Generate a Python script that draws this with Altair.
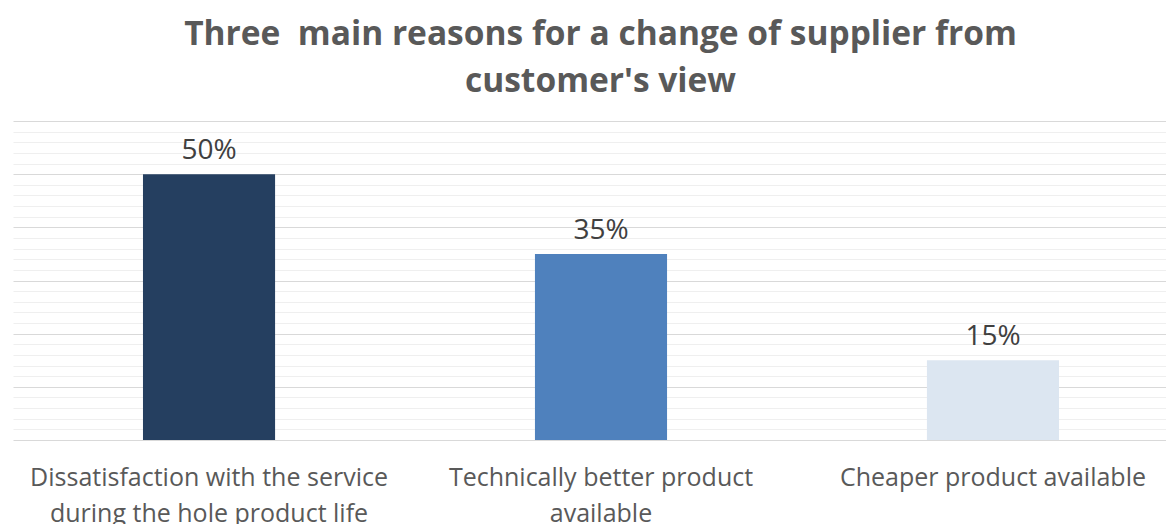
import altair as alt
import pandas as pd

categories = [
    "Dissatisfaction with the service\nduring the hole product life",
    "Technically better product\navailable",
    "Cheaper product available",
]
values = [0.50, 0.35, 0.15]
colors = ["#253F60", "#4F81BD", "#DCE6F1"]
labels = ["50%", "35%", "15%"]
title_lines = ["Three \u00a0main reasons for a change of supplier from", "customer's view"]

df = pd.DataFrame({"cat": categories, "value": values, "color": colors, "label": labels})

grid_values = [round(i * 0.02, 2) for i in range(31)]

x = alt.X(
    "cat:N",
    sort=categories,
    title=None,
    scale=alt.Scale(range=[0, 1176], paddingInner=0.663, paddingOuter=0.3316),
    axis=alt.Axis(
        labelExpr="split(datum.label, '\\n')",
        labelFont="Open Sans",
        labelFontSize=25,
        labelColor="#595959",
        labelLineHeight=36,
        labelPadding=25,
        labelAngle=0,
        ticks=False,
        domain=False,
        grid=False,
        labelLimit=0,
    ),
)

y = alt.Y(
    "value:Q",
    title=None,
    scale=alt.Scale(domain=[0, 0.6], nice=False, zero=True),
    axis=alt.Axis(
        values=grid_values,
        tickCount=200,
        labels=False,
        ticks=False,
        domain=False,
        grid=True,
        gridColor={
            "condition": {"test": "round(datum.value * 50) % 5 == 0", "value": "#D9D9D9"},
            "value": "#EFEFEF",
        },
        gridWidth=1,
    ),
)

bars = alt.Chart(df).mark_bar().encode(
    x=x,
    y=y,
    color=alt.Color("color:N", scale=None, legend=None),
)

text = alt.Chart(df).mark_text(
    font="Open Sans", fontSize=28, color="#404040", baseline="alphabetic", dy=-15
).encode(
    x=alt.X("cat:N", sort=categories),
    y="value:Q",
    text="label:N",
)

chart = (
    alt.layer(bars, text)
    .properties(
        width=1153,
        height=319,
        autosize=alt.AutoSizeParams(type="none"),
        padding={"top": 113, "bottom": 84, "left": 5, "right": 0},
        title=alt.TitleParams(
            text=title_lines,
            font="Open Sans",
            fontSize=33.5,
            fontWeight="bold",
            color="#595959",
            anchor="middle",
            dx=11,
            lineHeight=47,
            offset=22,
        ),
    )
    .configure_view(stroke=None)
)

chart.save("out.html", embed_options={"renderer": "svg", "actions": False})
